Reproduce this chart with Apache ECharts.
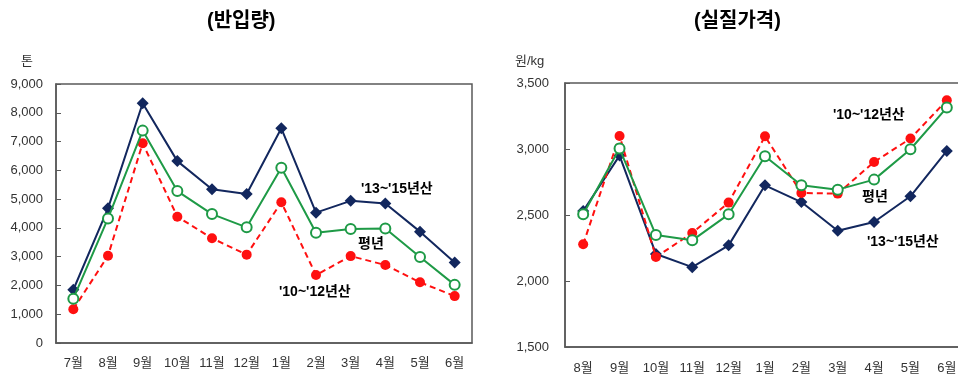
<!DOCTYPE html>
<html><head><meta charset="utf-8">
<script src="https://cdn.jsdelivr.net/npm/echarts@6/dist/echarts.min.js"></script>
<style>html,body{margin:0;padding:0;background:#fff;overflow:hidden;width:958px;height:377px}#c{width:975px;height:377px}</style>
</head><body><div id="c"></div>
<script>
var monthsL = ['7월','8월','9월','10월','11월','12월','1월','2월','3월','4월','5월','6월'];
var monthsR = ['8월','9월','10월','11월','12월','1월','2월','3월','4월','5월','6월'];
var qtyRecent = [1850,4680,8330,6320,5340,5180,7460,4530,4940,4850,3870,2800];
var qtyNormal = [1540,4330,7380,5280,4480,4020,6090,3830,3960,3980,2990,2020];
var qtyOld    = [1170,3030,6940,4390,3640,3070,4890,2360,3020,2710,2110,1630];
var priceRecent = [2530,2950,2205,2105,2270,2725,2598,2380,2447,2642,2985];
var priceNormal = [2505,3003,2348,2308,2505,2945,2725,2692,2768,2998,3314];
var priceOld    = [2278,3099,2182,2364,2594,3096,2667,2662,2902,3079,3369];
var yTicksL = {min:0, max:9000, interval:1000};
var yTicksR = {min:1500, max:3500, interval:500};
var nameRecent = "'13~'15년산", nameNormal = '평년', nameOld = "'10~'12년산";

var FONT = '"Liberation Sans", "Noto Sans CJK KR", sans-serif';
var NAVY = '#12275e', GREEN = '#1e9a46', RED = '#ff1010', AX = '#595959', TXT = '#333';

function fmt(v){ return v.toLocaleString('en-US'); }
function xAxis(idx, data){
  return {gridIndex: idx, type:'category', data:data, boundaryGap:true,
    axisLine:{lineStyle:{color:AX, width:1.5}},
    axisTick:{inside:true, length:5, lineStyle:{color:AX}, alignWithLabel:false},
    axisLabel:{color:TXT, fontSize:13, fontFamily:FONT, margin: idx===0?14:15, interval:0}};
}
function yAxis(idx, t){
  return {gridIndex: idx, type:'value', min:t.min, max:t.max, interval:t.interval,
    axisLine:{show:true, lineStyle:{color:AX, width:1.5}},
    axisTick:{show:true, inside:true, length:5, lineStyle:{color:AX}},
    splitLine:{show:false},
    axisLabel:{color:TXT, fontSize:13, fontFamily:FONT, margin: idx===0?13:16, formatter: fmt}};
}
function lines(idx, r, n, o){
  return [
    {type:'line', xAxisIndex:idx, yAxisIndex:idx, name:nameRecent, data:r, symbol:'diamond', symbolSize:12,
      itemStyle:{color:NAVY}, lineStyle:{color:NAVY, width:2}, z:2},
    {type:'line', xAxisIndex:idx, yAxisIndex:idx, name:nameOld, data:o, symbol:'circle', symbolSize:10,
      itemStyle:{color:RED}, lineStyle:{color:RED, width:2, type:[6,4]}, z:3},
    {type:'line', xAxisIndex:idx, yAxisIndex:idx, name:nameNormal, data:n, symbol:'emptyCircle', symbolSize:10,
      itemStyle:{color:GREEN, borderWidth:2}, lineStyle:{color:GREEN, width:2}, z:4}
  ];
}
function txt(x, y, s){
  return {type:'text', left:x, top:y, style:{text:s, fill:'#000', font:'bold 14px '+FONT}};
}
var chart = echarts.init(document.getElementById('c'));
chart.setOption({
  animation:false,
  grid:[
    {left:56, top:84, width:416, height:259, show:true, borderColor:AX, borderWidth:1.5, backgroundColor:'transparent'},
    {left:565, top:83, width:400, height:264, show:true, borderColor:AX, borderWidth:1.5, backgroundColor:'transparent'}
  ],
  xAxis:[xAxis(0, monthsL), xAxis(1, monthsR)],
  yAxis:[yAxis(0, yTicksL), yAxis(1, yTicksR)],
  series: lines(0, qtyRecent, qtyNormal, qtyOld).concat(lines(1, priceRecent, priceNormal, priceOld)),
  graphic:[
    {type:'text', left:207, top:11, style:{text:'(반입량)', fill:'#000', font:'bold 20px '+FONT}},
    {type:'text', left:694, top:11, style:{text:'(실질가격)', fill:'#000', font:'bold 20px '+FONT}},
    {type:'text', left:21, top:55, style:{text:'톤', fill:TXT, font:'13px '+FONT}},
    {type:'text', left:515, top:55, style:{text:'원/kg', fill:TXT, font:'13px '+FONT}},
    txt(361, 182, nameRecent),
    txt(358, 237, nameNormal),
    txt(279, 285, nameOld),
    txt(833, 108, nameOld),
    txt(862, 190, nameNormal),
    txt(867, 235, nameRecent)
  ]
});
</script></body></html>
